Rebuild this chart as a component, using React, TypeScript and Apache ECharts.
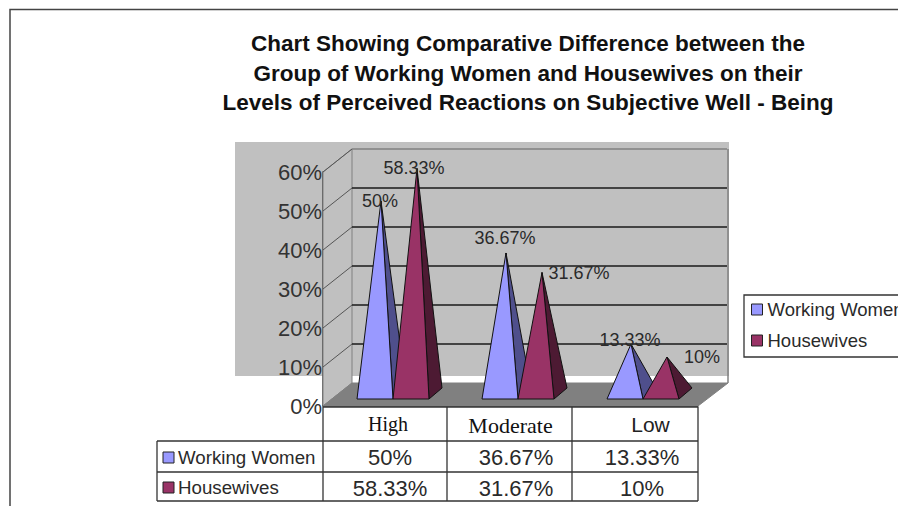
import React, { useEffect, useRef } from "react";
import * as echarts from "echarts";

const titleText = "Chart Showing Comparative Difference between the\nGroup of Working Women and Housewives on their\nLevels of Perceived Reactions on Subjective Well - Being";
const categories = ["High", "Moderate", "Low"];
const workingWomen = [50, 36.67, 13.33];
const housewives = [58.33, 31.67, 10];
const workingLabels = ["50%", "36.67%", "13.33%"];
const housewivesLabels = ["58.33%", "31.67%", "10%"];
const axisTicks = [0, 10, 20, 30, 40, 50, 60];
const seriesNames = ["Working Women", "Housewives"];

const labelShiftWorking = [[-1, 0], [-1, -15], [-1, -4]];
const labelShiftHousewives = [[-3, -1], [37, 1], [35, 0]];

const FONT = '"Liberation Sans", Arial, sans-serif';
const SERIF = '"Liberation Serif", "Times New Roman", serif';
const INK = "#2a2a2a";
const GRID = { x: 323, y: 172, w: 375, h: 234 };
const WALL_DX = 29;
const WALL_DY = -23;

const pyramid = (seriesIndex: number, front: string, side: string, labels: string[], shifts: number[][]) =>
  (params: any, api: any) => {
    const cat = api.value(0);
    const top = api.coord([cat, api.value(1)]);
    const zero = api.coord([cat, 0]);
    const barW = 36;
    const x0 = zero[0] + 7.5 + (seriesIndex === 0 ? -barW : 0);
    const x1 = x0 + barW;
    const y = zero[1] - 7;
    const apex = [x0 + barW / 2 + 6, top[1] - 10];
    const stroke = { stroke: "#111", lineWidth: 1 };
    const shift = shifts[params.dataIndex];
    return {
      type: "group",
      children: [
        {
          type: "polygon",
          shape: { points: [[x1, y], [x1 + 13, y - 11], apex] },
          style: { fill: side, ...stroke },
        },
        {
          type: "polygon",
          shape: { points: [[x0, y], [x1, y], apex] },
          style: { fill: front, ...stroke },
        },
        {
          type: "text",
          z2: 50,
          style: {
            text: labels[params.dataIndex],
            x: apex[0] + shift[0],
            y: apex[1] + shift[1],
            align: "center",
            verticalAlign: "middle",
            font: `18px ${FONT}`,
            fill: INK,
          },
        },
      ],
    };
  };

const renderWalls = (params: any, api: any) => {
  const { x, width } = params.coordSys;
  const v = api.value(0);
  const p = api.coord([0, v]);
  const y = p[1];
  const children: any[] = [];
  if (v === 0) {
    const top = api.coord([0, 60])[1];
    children.push(
      {
        type: "polygon",
        shape: { points: [[x, y], [x + WALL_DX, y + WALL_DY], [x + WALL_DX, top + WALL_DY], [x, top]] },
        style: { fill: "#c0c0c0", stroke: "#808080", lineWidth: 1 },
      },
      {
        type: "polygon",
        shape: {
          points: [[x + WALL_DX, y + WALL_DY], [x + width + WALL_DX + 1, y + WALL_DY], [x + width, y], [x, y]],
        },
        style: { fill: "#808080", stroke: "#808080", lineWidth: 1 },
      },
      {
        type: "line",
        shape: { x1: x + width + WALL_DX + 1, y1: top + WALL_DY, x2: x + width + WALL_DX + 1, y2: y + WALL_DY },
        style: { stroke: "#808080", lineWidth: 1.5 },
      },
    );
  } else {
    children.push(
      {
        type: "line",
        shape: { x1: x, y1: y, x2: x + WALL_DX, y2: y + WALL_DY },
        style: { stroke: "#555", lineWidth: 1 },
      },
      {
        type: "line",
        shape: { x1: x + WALL_DX, y1: y + WALL_DY, x2: x + width + WALL_DX, y2: y + WALL_DY },
        style: { stroke: v === 60 ? "#808080" : "#1a1a1a", lineWidth: 1.4 },
      },
    );
  }
  return { type: "group", children };
};

const tableText = (text: string, x: number, y: number, size: number, align = "center") => ({
  type: "text",
  z: 5,
  style: { text, x, y, align, verticalAlign: "middle", font: `${size}px ${FONT}`, fill: INK },
});
const tableLine = (x1: number, y1: number, x2: number, y2: number) => ({
  type: "line",
  z: 4,
  shape: { x1, y1, x2, y2 },
  style: { stroke: "#333", lineWidth: 1.3 },
});
const swatch = (y: number, fill: string) => ({
  type: "rect",
  z: 5,
  shape: { x: 163, y: y - 6, width: 11, height: 11 },
  style: { fill, stroke: "#222", lineWidth: 1 },
});

const columnX = [390, 516, 642];

export default function App() {
  const ref = useRef<HTMLDivElement>(null);
  useEffect(() => {
    const chart = echarts.init(ref.current!, undefined, { renderer: "svg" });
    chart.setOption({
      animation: false,
      backgroundColor: "#fff",
      title: {
        text: titleText,
        left: 523,
        top: 24,
        textAlign: "center",
        textStyle: { fontFamily: FONT, fontWeight: "bold", fontSize: 22.5, lineHeight: 29.5, color: "#111" },
      },
      legend: {
        orient: "vertical",
        left: 744,
        top: 295,
        padding: [5, 6, 7, 7],
        itemGap: 12,
        itemWidth: 11,
        itemHeight: 11,
        icon: "rect",
        borderColor: "#333",
        borderWidth: 1.3,
        backgroundColor: "#fff",
        data: seriesNames,
        itemStyle: { borderColor: "#222", borderWidth: 1 },
        textStyle: { fontFamily: FONT, fontSize: 18.5, color: INK },
      },
      grid: { left: GRID.x, top: GRID.y, width: GRID.w, height: GRID.h },
      xAxis: {
        type: "category",
        data: categories,
        axisTick: { show: false },
        axisLine: { lineStyle: { color: "#222", width: 1.5 } },
        axisLabel: {
          interval: 0,
          hideOverlap: false,
          margin: 8,
          formatter: (v: string) => `{${v}|${v}}`,
          rich: {
            High: { fontFamily: SERIF, fontSize: 20, padding: [0, 0, 0, 5], color: "#111" },
            Moderate: { fontFamily: SERIF, fontSize: 22, padding: [0, 0, 0, 0], color: "#111" },
            Low: { fontFamily: FONT, fontSize: 21, padding: [0, 0, 3, 30], color: "#222" },
          },
        },
      },
      yAxis: {
        type: "value",
        min: 0,
        max: 60,
        interval: 10,
        splitLine: { show: false },
        axisTick: { show: false },
        axisLine: { show: true, lineStyle: { color: "#333", width: 1.5 } },
        axisLabel: {
          margin: 1,
          formatter: "{value}%",
          fontFamily: FONT,
          fontSize: 22,
          color: "#333",
          padding: [2, 0, 0, 0],
        },
      },
      graphic: [
        {
          type: "polyline",
          z: 0,
          shape: { points: [[10, 506], [10, 9.5], [898, 9.5]] },
          style: { fill: "none", stroke: "#444", lineWidth: 1.5 },
        },
        {
          type: "rect",
          z: 0,
          shape: { x: 235, y: 142, width: 494, height: 234 },
          style: { fill: "#c0c0c0" },
        },
        tableLine(323, 407, 698, 407),
        tableLine(157, 441, 698, 441),
        tableLine(157, 472, 698, 472),
        tableLine(157, 501, 698, 501),
        tableLine(157, 441, 157, 501),
        tableLine(323, 407, 323, 501),
        tableLine(447, 407, 447, 501),
        tableLine(572, 407, 572, 501),
        tableLine(698, 407, 698, 501),
        swatch(458, "#9999ff"),
        swatch(488, "#993366"),
        tableText(seriesNames[0], 178, 457, 18.7, "left"),
        tableText(seriesNames[1], 178, 487, 18.7, "left"),
        ...workingLabels.map((t, i) => tableText(t, columnX[i], 457, 22)),
        ...housewivesLabels.map((t, i) => tableText(t, columnX[i], 488, 22)),
      ],
      series: [
        {
          type: "custom",
          name: "Walls",
          z: 1,
          coordinateSystem: "cartesian2d",
          silent: true,
          clip: false,
          data: axisTicks.map((v) => [v]),
          encode: { y: 0 },
          renderItem: renderWalls,
        },
        {
          type: "custom",
          name: seriesNames[0],
          z: 3,
          coordinateSystem: "cartesian2d",
          clip: false,
          itemStyle: { color: "#9999ff" },
          data: categories.map((c, i) => [c, workingWomen[i]]),
          encode: { x: 0, y: 1 },
          renderItem: pyramid(0, "#9999ff", "#4f4f8c", workingLabels, labelShiftWorking),
        },
        {
          type: "custom",
          name: seriesNames[1],
          z: 4,
          coordinateSystem: "cartesian2d",
          clip: false,
          itemStyle: { color: "#993366" },
          data: categories.map((c, i) => [c, housewives[i]]),
          encode: { x: 0, y: 1 },
          renderItem: pyramid(1, "#993366", "#4d1a33", housewivesLabels, labelShiftHousewives),
        },
      ],
    });
    return () => chart.dispose();
  }, []);
  return <div ref={ref} style={{ position: "absolute", left: 0, top: 0, width: 898, height: 506 }} />;
}
